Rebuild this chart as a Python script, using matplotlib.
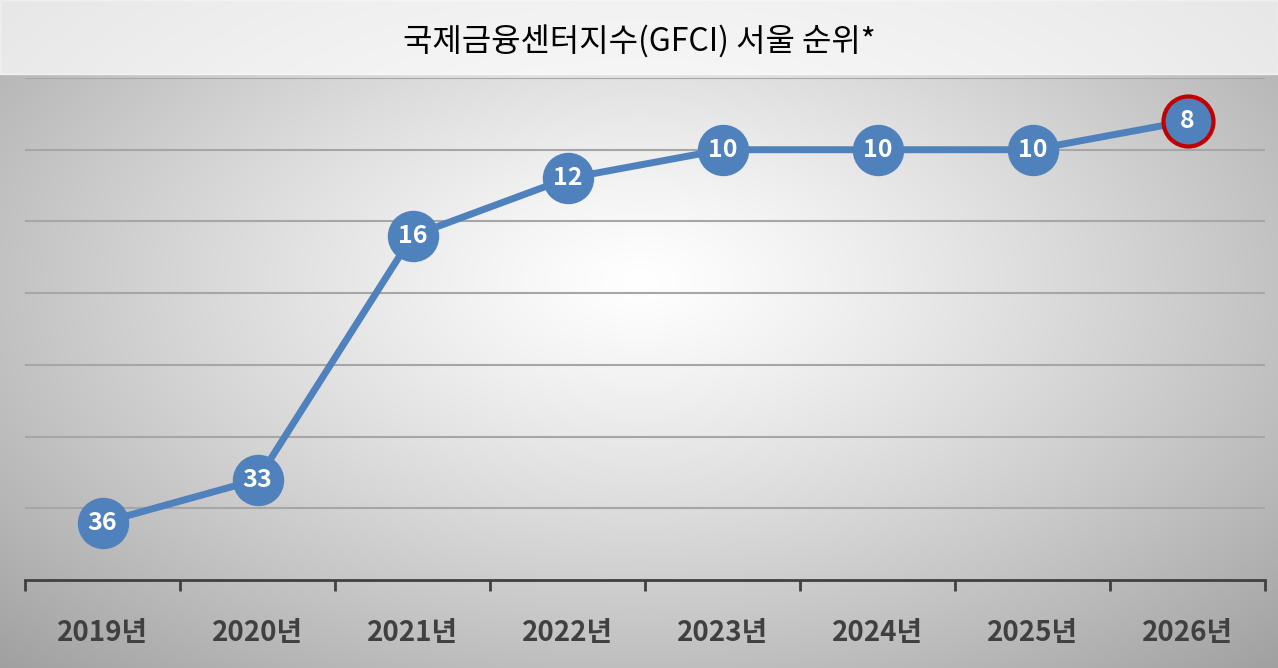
import matplotlib
matplotlib.use("Agg")
import matplotlib.pyplot as plt
import numpy as np

plt.rcParams['font.family'] = ['Noto Sans CJK KR', 'DejaVu Sans']

years = ["2019년", "2020년", "2021년", "2022년", "2023년", "2024년", "2025년", "2026년"]
ranks = [36, 33, 16, 12, 10, 10, 10, 8]
title = "국제금융센터지수(GFCI) 서울 순위*"

fig = plt.figure(figsize=(12.78, 6.68), dpi=100)
bg = fig.add_axes([0, 0, 1, 1], zorder=-10)
yy, xx = np.mgrid[0:668, 0:1278]
d = np.sqrt(((xx - 640) / 900.0) ** 2 + ((yy - 280) / 520.0) ** 2)
v = np.clip(1.0 - 0.36 * d ** 1.2, 0, 1)
img = np.dstack([v, v, v])
bg.imshow(img, aspect='auto', extent=[0, 1278, 668, 0])
bg.add_patch(plt.Rectangle((0, 0), 1278, 74, color='white', alpha=0.7))
bg.set_xlim(0, 1278); bg.set_ylim(668, 0); bg.axis('off')
fig.text(0.5, 1 - 42 / 668, title, ha='center', va='center', fontsize=23, color='black')

ax = fig.add_axes([25 / 1278, 88 / 668, 1240 / 1278, 502 / 668])
ax.patch.set_alpha(0)
x = np.arange(len(years))
ax.set_xlim(-0.5, len(years) - 0.5)
ax.set_ylim(40, 5)
ax.set_yticks([5, 10, 15, 20, 25, 30, 35])
ax.yaxis.grid(True, color='#a6a6a6', linewidth=1.5)
ax.tick_params(axis='y', left=False, labelleft=False)
for s in ['top', 'right', 'left']:
    ax.spines[s].set_visible(False)
ax.spines['bottom'].set_color('#404040')
ax.spines['bottom'].set_linewidth(2)
ax.set_xticks(x)
ax.set_xticklabels(years, fontsize=20, fontweight='bold', color='#404040')
ax.set_xticks(np.arange(-0.5, len(years)), minor=True)
ax.tick_params(axis='x', which='major', length=0, pad=28)
ax.tick_params(axis='x', which='minor', length=8, width=2, color='#404040', direction='out')

ax.plot(x, ranks, color='#4F81BD', linewidth=5, zorder=2)
ecs = ['#4F81BD'] * (len(ranks) - 1) + ['#C00000']
for xi, r, ec in zip(x, ranks, ecs):
    ax.plot(xi, r, 'o', markersize=36, markerfacecolor='#4F81BD', markeredgecolor=ec,
            markeredgewidth=3 if ec == '#C00000' else 1, zorder=3, clip_on=False)
    ax.text(xi, r, str(r), ha='center', va='center', color='white', fontsize=18,
            fontweight='bold', zorder=4)

fig.savefig("out.png", dpi=100)
